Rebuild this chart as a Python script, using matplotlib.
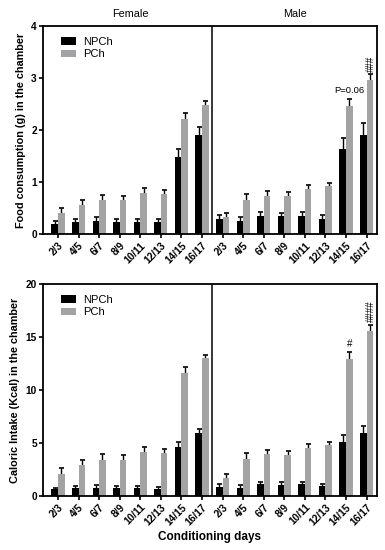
import matplotlib
matplotlib.use("Agg")
import matplotlib.pyplot as plt
import numpy as np

days = ["2/3", "4/5", "6/7", "8/9", "10/11", "12/13", "14/15", "16/17"]
tick_labels = days + days

# Food consumption (g): female then male
food_npch = [0.20, 0.24, 0.26, 0.24, 0.24, 0.24, 1.49, 1.91,
             0.28, 0.26, 0.35, 0.34, 0.35, 0.29, 1.64, 1.91]
food_npch_err = [0.06, 0.05, 0.06, 0.05, 0.05, 0.05, 0.15, 0.14,
                 0.08, 0.06, 0.07, 0.06, 0.07, 0.07, 0.21, 0.22]
food_pch = [0.40, 0.55, 0.65, 0.66, 0.79, 0.77, 2.22, 2.49,
            0.33, 0.66, 0.74, 0.74, 0.87, 0.92, 2.47, 2.97]
food_pch_err = [0.10, 0.10, 0.11, 0.08, 0.09, 0.08, 0.10, 0.06,
                0.07, 0.11, 0.09, 0.07, 0.08, 0.06, 0.13, 0.10]

# Caloric intake (Kcal): female then male
cal_npch = [0.63, 0.76, 0.79, 0.76, 0.76, 0.69, 4.63, 5.95,
            0.85, 0.79, 1.10, 1.07, 1.10, 0.91, 5.10, 5.92]
cal_npch_err = [0.16, 0.15, 0.21, 0.15, 0.15, 0.20, 0.47, 0.41,
                0.28, 0.21, 0.22, 0.22, 0.25, 0.22, 0.66, 0.73]
cal_pch = [2.11, 2.90, 3.37, 3.43, 4.16, 4.06, 11.65, 13.04,
           1.70, 3.46, 3.94, 3.84, 4.54, 4.79, 12.90, 15.56]
cal_pch_err = [0.54, 0.53, 0.63, 0.47, 0.47, 0.41, 0.55, 0.31,
               0.41, 0.60, 0.44, 0.44, 0.40, 0.34, 0.70, 0.54]

groups = ["Female", "Male"]
series = ["NPCh", "PCh"]
colors = ["#000000", "#a3a3a5"]

plt.rcParams['font.family'] = ['Liberation Sans', 'DejaVu Sans']

fig = plt.figure(figsize=(3.85, 5.5), dpi=100)
ax1 = fig.add_axes([0.112, 0.5745, 0.867, 0.378])
ax2 = fig.add_axes([0.112, 0.0982, 0.867, 0.3854])

x = np.arange(len(tick_labels))
w = 0.32

def draw(ax, npch, npch_err, pch, pch_err, ymax, ystep, ylabel):
    ax.bar(x - w/2, npch, w, color=colors[0], label=series[0], zorder=2)
    ax.bar(x + w/2, pch, w, color=colors[1], label=series[1], zorder=2)
    ax.errorbar(x - w/2, npch, yerr=npch_err, fmt='none',
                ecolor='black', elinewidth=1.0, capsize=1.8, capthick=1.2, zorder=1)
    ax.errorbar(x + w/2, pch, yerr=pch_err, fmt='none',
                ecolor='black', elinewidth=1.0, capsize=1.8, capthick=1.2, zorder=1)
    ax.set_xlim(-0.72, 15.5)
    ax.set_ylim(0, ymax)
    ax.set_yticks(np.arange(0, ymax + 0.001, ystep))
    ax.set_xticks(x)
    ax.set_xticklabels(tick_labels, rotation=45, ha='right', rotation_mode='anchor',
                       fontsize=7.3, fontweight='bold')
    for lab in ax.get_yticklabels():
        lab.set_fontweight('bold')
        lab.set_fontsize(7.3)
    ax.set_ylabel(ylabel, fontsize=7.8, fontweight='bold', labelpad=4)
    ax.axvline(7.5, color='black', lw=1.1, zorder=4)
    for s in ax.spines.values():
        s.set_linewidth(1.3)
    ax.tick_params(axis='both', width=1.2, length=3, pad=1.5)
    ax.legend(loc='upper left', frameon=False, fontsize=8, handlelength=1.4,
              handleheight=0.7, borderaxespad=0.6, labelspacing=0.2,
              handletextpad=0.6, bbox_to_anchor=(0.02, 1.0))

draw(ax1, food_npch, food_npch_err, food_pch, food_pch_err, 4, 1,
     "Food consumption (g) in the chamber")
draw(ax2, cal_npch, cal_npch_err, cal_pch, cal_pch_err, 20, 5,
     "Caloric Intake (Kcal) in the chamber")

ax1.text(3.5, 1.035, groups[0], transform=ax1.get_xaxis_transform(),
         ha='center', va='bottom', fontsize=7.8)
ax1.text(11.5, 1.035, groups[1], transform=ax1.get_xaxis_transform(),
         ha='center', va='bottom', fontsize=7.8)

ax1.text(14 + w/2, food_pch[14] + food_pch_err[14] + 0.08, "P=0.06",
         ha='center', va='bottom', fontsize=6.8)
ax1.text(15 + w/2 + 0.05, food_pch[15] + food_pch_err[15] + 0.05, "###",
         ha='center', va='bottom', fontsize=7, rotation=90)
ax2.text(14 + w/2, cal_pch[14] + cal_pch_err[14] + 0.3, "#",
         ha='center', va='bottom', fontsize=7)
ax2.text(15 + w/2 + 0.05, cal_pch[15] + cal_pch_err[15] + 0.3, "####",
         ha='center', va='bottom', fontsize=7, rotation=90)

fig.text(0.545, 0.012, "Conditioning days", ha='center', va='bottom',
         fontsize=8.5, fontweight='bold')

fig.savefig("out.png", dpi=100)
